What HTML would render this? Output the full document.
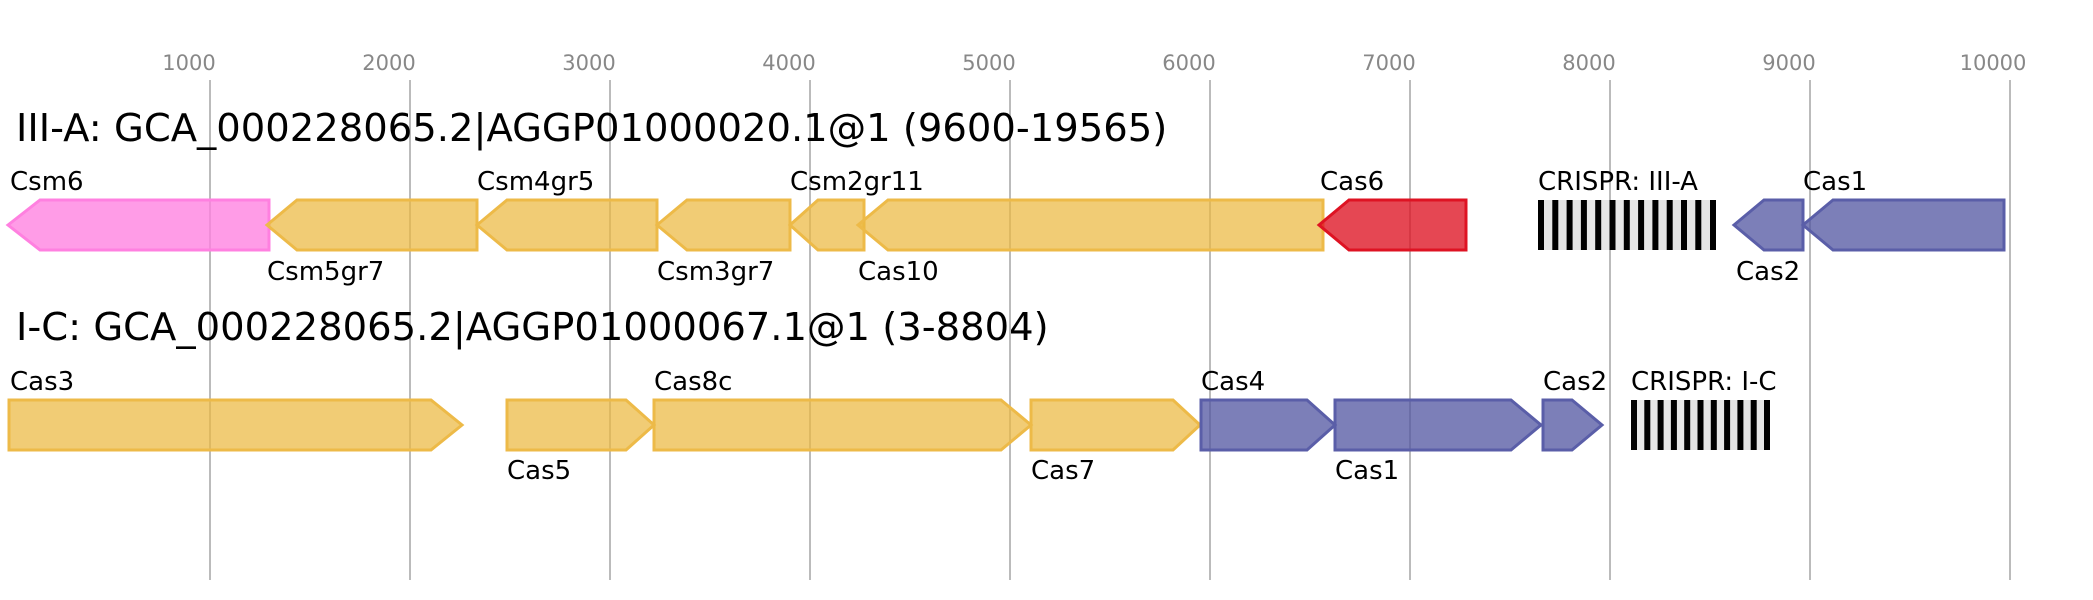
<!DOCTYPE html>
<html><head><meta charset="utf-8"><style>html,body{margin:0;padding:0;background:#fff}svg{display:block}text{font-family:"DejaVu Sans","Liberation Sans",sans-serif}</style></head><body>
<svg width="2093" height="600" viewBox="0 0 2093 600" xmlns="http://www.w3.org/2000/svg">
<g stroke="#bbb" stroke-width="2">
<line x1="210" y1="80" x2="210" y2="580"/><line x1="410" y1="80" x2="410" y2="580"/><line x1="610" y1="80" x2="610" y2="580"/><line x1="810" y1="80" x2="810" y2="580"/><line x1="1010" y1="80" x2="1010" y2="580"/><line x1="1210" y1="80" x2="1210" y2="580"/><line x1="1410" y1="80" x2="1410" y2="580"/><line x1="1610" y1="80" x2="1610" y2="580"/><line x1="1810" y1="80" x2="1810" y2="580"/><line x1="2010" y1="80" x2="2010" y2="580"/>
</g>
<g fill="#888" font-size="21" text-anchor="middle">
<text x="189" y="70">1000</text><text x="389" y="70">2000</text><text x="589" y="70">3000</text><text x="789" y="70">4000</text><text x="989" y="70">5000</text><text x="1189" y="70">6000</text><text x="1389" y="70">7000</text><text x="1589" y="70">8000</text><text x="1789" y="70">9000</text><text x="1993" y="70">10000</text>
</g>
<text x="16" y="141" font-size="38.5" fill="#000">III-A: GCA_000228065.2|AGGP01000020.1@1 (9600-19565)</text>
<text x="16" y="340" font-size="38.5" fill="#000">I-C: GCA_000228065.2|AGGP01000067.1@1 (3-8804)</text>
<g stroke-width="3">
<polygon points="8,225 40,200 269,200 269,250 40,250" fill="rgba(255,128,224,0.78)" stroke="#ff80e0"/>
<polygon points="267,225 297,200 477,200 477,250 297,250" fill="rgba(236,184,64,0.72)" stroke="#edba48"/>
<polygon points="477,225 507,200 657,200 657,250 507,250" fill="rgba(236,184,64,0.72)" stroke="#edba48"/>
<polygon points="657,225 687,200 790,200 790,250 687,250" fill="rgba(236,184,64,0.72)" stroke="#edba48"/>
<polygon points="790,225 818,200 864,200 864,250 818,250" fill="rgba(236,184,64,0.72)" stroke="#edba48"/>
<polygon points="858,225 888,200 1323,200 1323,250 888,250" fill="rgba(236,184,64,0.72)" stroke="#edba48"/>
<polygon points="1319,225 1349,200 1466,200 1466,250 1349,250" fill="rgba(222,19,35,0.78)" stroke="#de1323"/>
<polygon points="1734,225 1764,200 1803,200 1803,250 1764,250" fill="rgba(80,84,160,0.75)" stroke="#5a5ea8"/>
<polygon points="1803,225 1833,200 2004,200 2004,250 1833,250" fill="rgba(80,84,160,0.75)" stroke="#5a5ea8"/>

<polygon points="9,400 431,400 462,425 431,450 9,450" fill="rgba(236,184,64,0.72)" stroke="#edba48"/>
<polygon points="507,400 626,400 654,425 626,450 507,450" fill="rgba(236,184,64,0.72)" stroke="#edba48"/>
<polygon points="654,400 1001,400 1031,425 1001,450 654,450" fill="rgba(236,184,64,0.72)" stroke="#edba48"/>
<polygon points="1031,400 1173,400 1200,425 1173,450 1031,450" fill="rgba(236,184,64,0.72)" stroke="#edba48"/>
<polygon points="1201,400 1307,400 1335,425 1307,450 1201,450" fill="rgba(80,84,160,0.75)" stroke="#5a5ea8"/>
<polygon points="1335,400 1511,400 1541,425 1511,450 1335,450" fill="rgba(80,84,160,0.75)" stroke="#5a5ea8"/>
<polygon points="1543,400 1572,400 1602,425 1572,450 1543,450" fill="rgba(80,84,160,0.75)" stroke="#5a5ea8"/>
</g>
<rect x="1538" y="200" width="178" height="50" fill="#e6e6e6"/>
<g fill="#000">
<rect x="1538" y="200" width="6" height="50"/><rect x="1552.3" y="200" width="6" height="50"/><rect x="1566.6" y="200" width="6" height="50"/><rect x="1580.9" y="200" width="6" height="50"/><rect x="1595.2" y="200" width="6" height="50"/><rect x="1609.5" y="200" width="6" height="50"/><rect x="1623.8" y="200" width="6" height="50"/><rect x="1638.1" y="200" width="6" height="50"/><rect x="1652.4" y="200" width="6" height="50"/><rect x="1666.7" y="200" width="6" height="50"/><rect x="1681" y="200" width="6" height="50"/><rect x="1695.3" y="200" width="6" height="50"/><rect x="1710" y="200" width="6" height="50"/>
</g>
<rect x="1631" y="400" width="139" height="50" fill="#e6e6e6"/>
<g fill="#000">
<rect x="1631" y="400" width="6" height="50"/><rect x="1644.3" y="400" width="6" height="50"/><rect x="1657.6" y="400" width="6" height="50"/><rect x="1670.9" y="400" width="6" height="50"/><rect x="1684.2" y="400" width="6" height="50"/><rect x="1697.5" y="400" width="6" height="50"/><rect x="1710.8" y="400" width="6" height="50"/><rect x="1724.1" y="400" width="6" height="50"/><rect x="1737.4" y="400" width="6" height="50"/><rect x="1750.7" y="400" width="6" height="50"/><rect x="1764" y="400" width="6" height="50"/>
</g>
<g fill="#000" font-size="26">
<text x="10" y="190">Csm6</text><text x="267" y="280">Csm5gr7</text><text x="477" y="190">Csm4gr5</text><text x="657" y="280">Csm3gr7</text><text x="790" y="190">Csm2gr11</text><text x="858" y="280">Cas10</text><text x="1320" y="190">Cas6</text><text x="1538" y="190">CRISPR: III-A</text><text x="1736" y="280">Cas2</text><text x="1803" y="190">Cas1</text>
<text x="10" y="390">Cas3</text><text x="507" y="479">Cas5</text><text x="654" y="390">Cas8c</text><text x="1031" y="479">Cas7</text><text x="1201" y="390">Cas4</text><text x="1335" y="479">Cas1</text><text x="1543" y="390">Cas2</text><text x="1631" y="390">CRISPR: I-C</text>
</g>
</svg>
</body></html>
